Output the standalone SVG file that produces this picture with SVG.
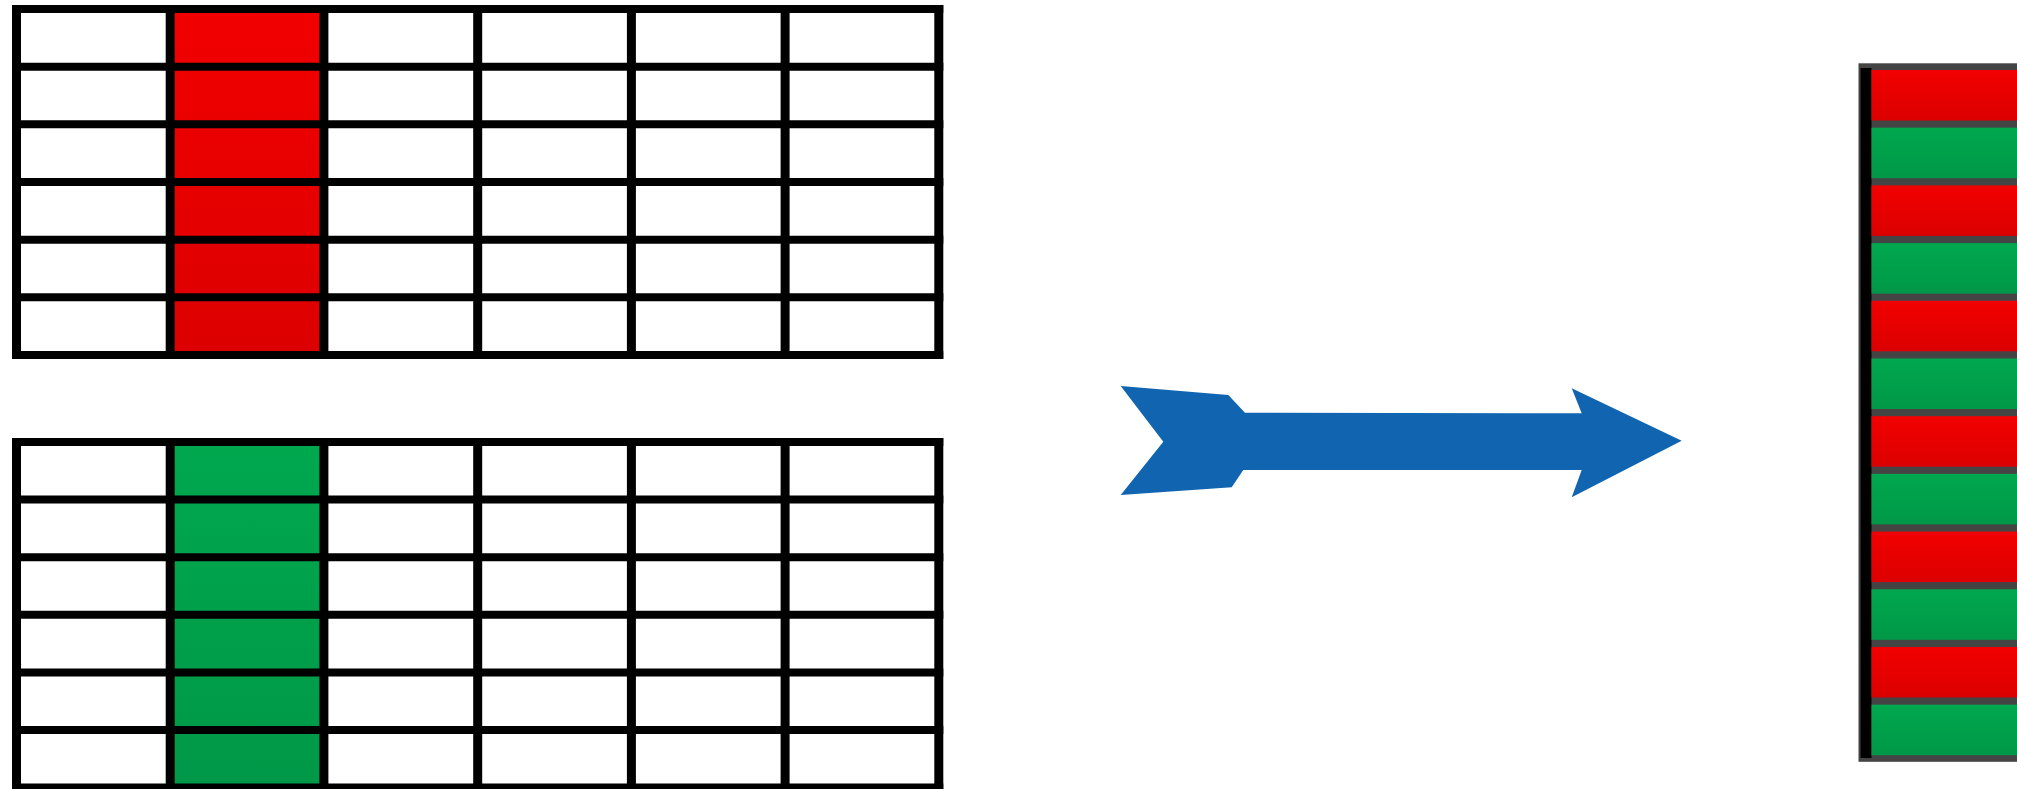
<svg xmlns="http://www.w3.org/2000/svg" width="2017" height="789" viewBox="0 0 2017 789">
  <defs>
    <linearGradient id="gRed" x1="0" y1="0" x2="0" y2="1">
      <stop offset="0" stop-color="#f20000"/>
      <stop offset="1" stop-color="#dc0000"/>
    </linearGradient>
    <linearGradient id="gGreen" x1="0" y1="0" x2="0" y2="1">
      <stop offset="0" stop-color="#00a84e"/>
      <stop offset="1" stop-color="#009848"/>
    </linearGradient>
    <style>
      .h { fill: none; stroke: #000; stroke-width: 8; }
      .v { fill: none; stroke: #000; stroke-width: 9; }
      .red { fill: url(#gRed); }
      .green { fill: url(#gGreen); }
    </style>
  </defs>
  <rect width="2017" height="789" fill="#fff"/>

  <g id="tableA">
    <rect class="red" x="170.2" y="9" width="153.7" height="346"/>
    <path class="h" d="M12 9H943.3M12 66.7H943.3M12 124.3H943.3M12 182H943.3M12 239.7H943.3M12 297.3H943.3M12 355H943.3"/>
    <path class="v" d="M16.5 5V359M170.2 5V359M323.9 5V359M477.7 5V359M631.4 5V359M785.1 5V359M938.8 5V359"/>
  </g>

  <g id="tableB">
    <rect class="green" x="170.2" y="442" width="153.7" height="345.6"/>
    <path class="h" d="M12 442H943.3M12 499.6H943.3M12 557.2H943.3M12 614.8H943.3M12 672.4H943.3M12 730H943.3M12 787.6H943.3"/>
    <path class="v" d="M16.5 438V791.6M170.2 438V791.6M323.9 438V791.6M477.7 438V791.6M631.4 438V791.6M785.1 438V791.6M938.8 438V791.6"/>
  </g>

  <g id="connectors">
    <path fill="#1064b0" d="M1120.7 386L1228.3 395L1245 412.7L1581.7 413.3L1571.7 388.3L1681.7 440.7L1571.7 497.3L1581.7 470L1243.3 470L1231.7 487.3L1120.7 495L1163.3 441.7Z"/>
  </g>

  <g id="result">
    <rect x="1858.5" y="63.3" width="170" height="698.5" fill="#444"/>
    <rect x="1860.5" y="68" width="11" height="690" fill="#000"/>
    <rect class="red" x="1871.5" y="70" width="160" height="50.5"/>
    <rect class="green" x="1871.5" y="127.7" width="160" height="50.5"/>
    <rect class="red" x="1871.5" y="185.4" width="160" height="50.5"/>
    <rect class="green" x="1871.5" y="243.1" width="160" height="50.5"/>
    <rect class="red" x="1871.5" y="300.8" width="160" height="50.5"/>
    <rect class="green" x="1871.5" y="358.5" width="160" height="50.5"/>
    <rect class="red" x="1871.5" y="416.2" width="160" height="50.5"/>
    <rect class="green" x="1871.5" y="473.9" width="160" height="50.5"/>
    <rect class="red" x="1871.5" y="531.6" width="160" height="50.5"/>
    <rect class="green" x="1871.5" y="589.3" width="160" height="50.5"/>
    <rect class="red" x="1871.5" y="647" width="160" height="50.5"/>
    <rect class="green" x="1871.5" y="704.7" width="160" height="50.5"/>
  </g>
</svg>
